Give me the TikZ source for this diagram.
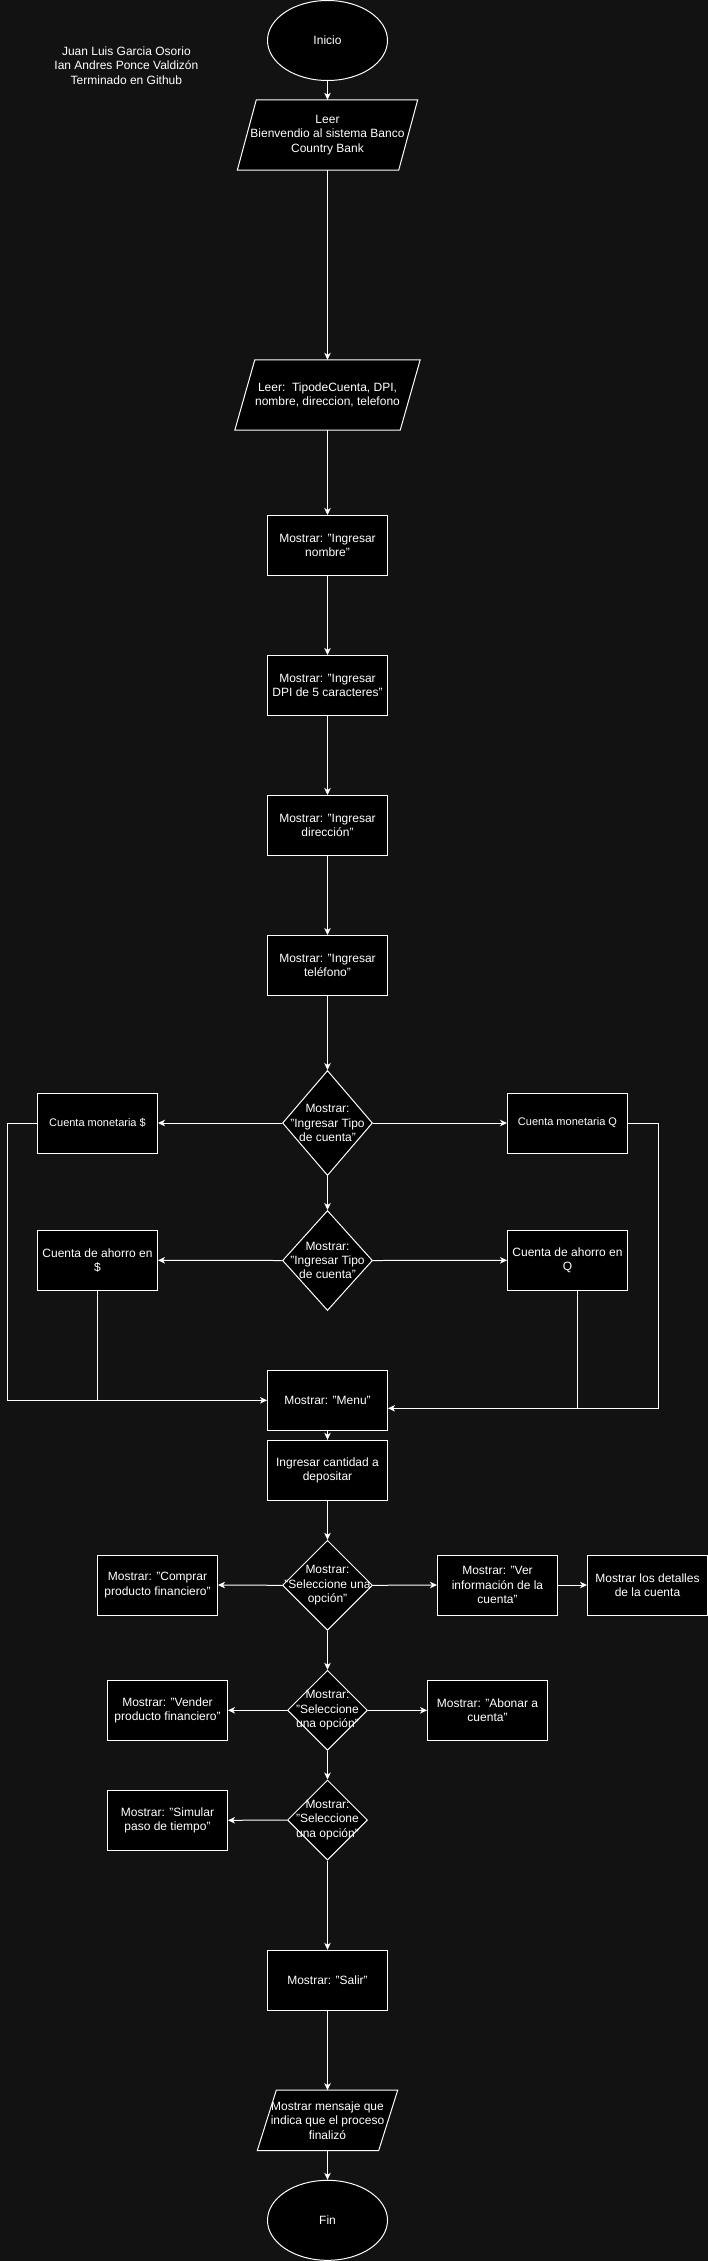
\documentclass[tikz,border=0pt]{standalone}
\usepackage{fontspec}
\setmainfont{Liberation Sans}
\usetikzlibrary{shapes.geometric,arrows.meta,calc}
\definecolor{bgc}{RGB}{18,18,18}
\begin{document}
\begin{tikzpicture}[x=1pt,y=-1pt,
  every node/.style={text=white, font=\fontsize{12}{14.4}\selectfont, align=center, inner sep=0pt},
  boxnode/.style={draw=white, fill=black, line width=1pt, minimum width=120pt, minimum height=60pt},
  smalltxt/.style={font=\fontsize{11}{13}\selectfont},
  ellnode/.style={ellipse, draw=white, fill=black, line width=1pt, minimum width=120pt, minimum height=80pt},
  dianode/.style={diamond, draw=white, fill=black, line width=1pt, inner sep=0pt},
  parabox/.style={draw=white, fill=black, line width=1pt},
  conn/.style={draw=white, line width=1pt, -{Stealth[length=7pt,width=6.5pt,inset=2pt]}},
  plain/.style={draw=white, line width=1pt},
]
\fill[bgc] (0,0) rectangle (708,2261);
\useasboundingbox (0,0) rectangle (708,2261);

% author text
\node (autor) at (126.4,65.7) {Juan Luis Garcia Osorio\\Ian Andres Ponce Valdizón\\Terminado en Github};

% start
\node[ellnode] (inicio) at (327.5,40.5) {Inicio};

% Leer 1
\node[minimum width=180pt, minimum height=70pt] (leer1) at (327.5,135) {};
\path[parabox] ($(leer1.north west)+(19,0)$) -- (leer1.north east) -- ($(leer1.south east)+(-19,0)$) -- (leer1.south west) -- cycle;
\node (leer1t) at (leer1) {Leer\\Bienvendio al sistema Banco\\Country Bank};

% Leer 2
\node[minimum width=185pt, minimum height=70pt] (leer2) at (327.5,395) {};
\path[parabox] ($(leer2.north west)+(20,0)$) -- (leer2.north east) -- ($(leer2.south east)+(-20,0)$) -- (leer2.south west) -- cycle;
\node (leer2t) at (leer2) {Leer:\ \ TipodeCuenta, DPI,\\nombre, direccion, telefono};

% Mostrar boxes
\node[boxnode] (nombre) at (327.5,545.5) {Mostrar: "Ingresar\\nombre"};
\node[boxnode] (dpi) at (327.5,685.5) {Mostrar: "Ingresar\\DPI de 5 caracteres"};
\node[boxnode] (dir) at (327.5,825.5) {Mostrar: "Ingresar\\dirección"};
\node[boxnode] (tel) at (327.5,965.5) {Mostrar: "Ingresar\\teléfono"};

% decision 1
\node[dianode, minimum width=90pt, minimum height=105pt] (d1) at (327.5,1123) {};
\node (d1t) at (d1) {Mostrar:\\"Ingresar Tipo\\de cuenta"};
\node[boxnode, smalltxt] (monD) at (97.5,1123) {Cuenta monetaria \$};
\node[boxnode, smalltxt] (monQ) at (567.5,1123) {Cuenta monetaria Q};

% decision 2
\node[dianode, minimum width=90pt, minimum height=100pt] (d2) at (327.5,1260.5) {};
\node (d2t) at (d2) {Mostrar:\\"Ingresar Tipo\\de cuenta"};
\node[boxnode] (ahD) at (97.5,1260.3) {Cuenta de ahorro en\\\$};
\node[boxnode] (ahQ) at (567.5,1260.3) {Cuenta de ahorro en\\Q};

% menu
\node[boxnode] (menu) at (327.5,1400.3) {Mostrar: "Menu"};
\node[boxnode] (ingresar) at (327.5,1470.3) {Ingresar cantidad a\\depositar};

% decision 3
\node[dianode, minimum width=90pt, minimum height=90pt] (d3) at (327.5,1585.3) {};
\node (d3t) at (d3) {Mostrar:\\"Seleccione una\\opción"};
\node[boxnode] (comprar) at (157.5,1585) {Mostrar: "Comprar\\producto financiero"};
\node[boxnode] (ver) at (497.5,1585) {Mostrar: "Ver\\información de la\\cuenta"};
\node[boxnode] (detalles) at (647.5,1585) {Mostrar los detalles\\de la cuenta};

% decision 4
\node[dianode, minimum width=80pt, minimum height=80pt] (d4) at (327.5,1710.3) {};
\node (d4t) at (d4) {Mostrar:\\"Seleccione\\una opción"};
\node[boxnode] (vender) at (167.5,1710.3) {Mostrar: "Vender\\producto financiero"};
\node[boxnode] (abonar) at (487.5,1710.3) {Mostrar: "Abonar a\\cuenta"};

% decision 5
\node[dianode, minimum width=80pt, minimum height=80pt] (d5) at (327.5,1820) {};
\node (d5t) at (d5) {Mostrar:\\"Seleccione\\una opción"};
\node[boxnode] (simular) at (167.5,1820.3) {Mostrar: "Simular\\paso de tiempo"};

% salir
\node[boxnode] (salir) at (327.5,1980.3) {Mostrar: "Salir"};

% final message
\node[minimum width=140pt, minimum height=60pt] (final) at (327.5,2120.3) {};
\path[parabox] ($(final.north west)+(19,0)$) -- (final.north east) -- ($(final.south east)+(-19,0)$) -- (final.south west) -- cycle;
\node (finalt) at (final) {Mostrar mensaje que\\indica que el proceso\\finalizó};

% end
\node[ellnode] (fin) at (327.5,2220.3) {Fin};

% connectors
\draw[conn] (inicio.south) -- (leer1.north);
\draw[conn] (leer1.south) -- (leer2.north);
\draw[conn] (leer2.south) -- (nombre.north);
\draw[conn] (nombre) -- (dpi);
\draw[conn] (dpi) -- (dir);
\draw[conn] (dir) -- (tel);
\draw[conn] (tel.south) -- (d1.north);
\draw[conn] (d1.west) -- (monD.east);
\draw[conn] (d1.east) -- (monQ.west);
\draw[conn] (d1.south) -- (d2.north);
\draw[conn] (d2.west) -- (ahD.east);
\draw[conn] (d2.east) -- (ahQ.west);
\draw[conn] (monD.west) -- ++(-30,0) |- (menu.west);
\draw[plain] (ahD.south) -- (ahD.south |- menu.west);
\coordinate (menuin) at ($(menu.east)+(0,8)$);
\draw[conn] (monQ.east) -- ++(30,0) |- (menuin);
\coordinate (ahQout) at ($(ahQ.south)+(10,0)$);
\draw[plain] (ahQout) -- (ahQout |- menuin);
\draw[conn] (menu) -- (ingresar);
\draw[conn] (ingresar.south) -- (d3.north);
\draw[conn] (d3.west) -- (comprar.east);
\draw[conn] (d3.east) -- (ver.west);
\draw[conn] (ver) -- (detalles);
\draw[conn] (d3.south) -- (d4.north);
\draw[conn] (d4.west) -- (vender.east);
\draw[conn] (d4.east) -- (abonar.west);
\draw[conn] (d4.south) -- (d5.north);
\draw[conn] (d5.west) -- (simular.east);
\draw[conn] (d5.south) -- (salir.north);
\draw[conn] (salir.south) -- (final.north);
\draw[conn] (final.south) -- (fin.north);
\end{tikzpicture}
\end{document}
